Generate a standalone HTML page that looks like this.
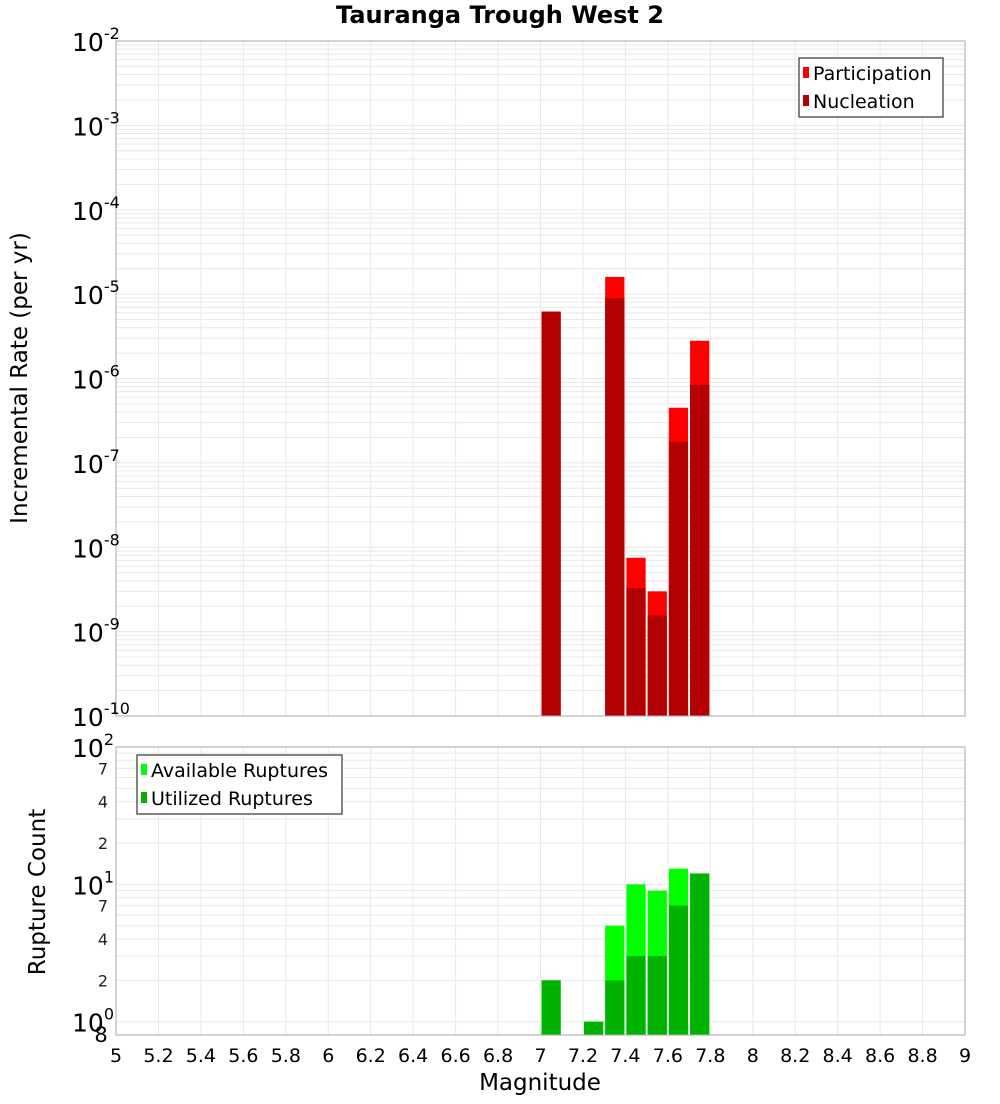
<!DOCTYPE html>
<html><head><meta charset="utf-8"><style>
body{margin:0;background:#fff;font-family:"DejaVu Sans","Liberation Sans",sans-serif;}
svg text{font-family:"DejaVu Sans","Liberation Sans",sans-serif;}
</style></head><body>
<svg id="c" width="1000" height="1100" xmlns="http://www.w3.org/2000/svg">
<text x="500" y="23" text-anchor="middle" font-size="24" font-weight="bold">Tauranga Trough West 2</text>
<text transform="translate(27,378) rotate(-90)" text-anchor="middle" font-size="23">Incremental Rate (per yr)</text>
<text transform="translate(45,892) rotate(-90)" text-anchor="middle" font-size="23">Rupture Count</text>
<text x="540" y="1090" text-anchor="middle" font-size="23">Magnitude</text>
<g id="g"></g>
</svg>
<script>
const mags=[7.05,7.35,7.45,7.55,7.65,7.75];
const partic=[6.2e-6,1.6e-5,7.5e-9,3.0e-9,4.5e-7,2.8e-6];
const nucl=[6.2e-6,9.0e-6,3.3e-9,1.55e-9,1.78e-7,8.4e-7];
const cntMags=[7.05,7.25,7.35,7.45,7.55,7.65,7.75];
const avail=[2,1,5,10,9,13,12];
const util=[2,1,2,3,3,7,12];
const xTicks=[5,5.2,5.4,5.6,5.8,6,6.2,6.4,6.6,6.8,7,7.2,7.4,7.6,7.8,8,8.2,8.4,8.6,8.8,9];

const NS="http://www.w3.org/2000/svg",g=document.getElementById('g');
function el(t,a,txt){const e=document.createElementNS(NS,t);for(const k in a)e.setAttribute(k,a[k]);if(txt!==undefined)e.textContent=txt;g.appendChild(e);return e;}
const L=116,R=965;
const x=v=>L+(v-5)/4*(R-L);
const T1=41,B1=716;const y1=v=>T1+(-2-Math.log10(v))/8*(B1-T1);
const T2=747,B2=1035,lmin=Math.log10(0.8);const y2=v=>B2-(Math.log10(v)-lmin)/(2-lmin)*(B2-T2);
for(let d=-10;d<-2;d++)for(let m=1;m<10;m++){const yy=y1(m*Math.pow(10,d));const e=el('line',{x1:L,x2:R,y1:yy,y2:yy,stroke:'#e8e8e8','stroke-width':1});}
for(let d=0;d<2;d++)for(let m=1;m<10;m++){const v=m*Math.pow(10,d);if(v<0.8)continue;const yy=y2(v);const e=el('line',{x1:L,x2:R,y1:yy,y2:yy,stroke:'#e8e8e8','stroke-width':1});}
xTicks.forEach(t=>{const xx=x(t);for(const [a,b] of [[T1,B1],[T2,B2]]){const e=el('line',{x1:xx,x2:xx,y1:a,y2:b,stroke:'#e8e8e8','stroke-width':1});}
 const tl=el('text',{x:xx,y:1062,'text-anchor':'middle','font-size':19},String(t));});
const bw=(x(0.1)-x(0))-2;
mags.forEach((m,i)=>{const xx=x(m)-bw/2;
 const p=el('rect',{x:xx,y:y1(partic[i]),width:bw,height:B1-y1(partic[i]),fill:'#ff0000'});
 const n=el('rect',{x:xx,y:y1(nucl[i]),width:bw,height:B1-y1(nucl[i]),fill:'#b30000'});});
cntMags.forEach((m,i)=>{const xx=x(m)-bw/2;
 const p=el('rect',{x:xx,y:y2(avail[i]),width:bw,height:B2-y2(avail[i]),fill:'#00ff00'});
 const n=el('rect',{x:xx,y:y2(util[i]),width:bw,height:B2-y2(util[i]),fill:'#00b300'});});
for(const [a,b,nm] of [[T1,B1,'top-plot-frame'],[T2,B2,'bottom-plot-frame']]){const e=el('rect',{x:L,y:a,width:R-L,height:b-a,fill:'none',stroke:'#aaa','stroke-width':1});}
for(let d=-10;d<=-2;d++){const yy=y1(Math.pow(10,d));const t=el('text',{x:72,y:yy+10,'font-size':25});
 t.innerHTML='10<tspan dy="-12" font-size="16">'+d+'</tspan>';}
for(let d=0;d<=2;d++){const yy=y2(Math.pow(10,d));const t=el('text',{x:72,y:yy+10,'font-size':25});t.innerHTML='10<tspan dy="-12" font-size="16">'+d+'</tspan>';}
for(const d of [0,1])for(const m of [2,4,7]){const t=el('text',{x:103,y:y2(m*Math.pow(10,d))+6,'font-size':16,'text-anchor':'middle','fill':'#222'},String(m));}
{const t=el('text',{x:101,y:1042,'font-size':21,'text-anchor':'middle'},'8');}
function legend(x0,y0,w,h,items,nm){const r=el('rect',{x:x0,y:y0,width:w,height:h,fill:'#fff',stroke:'#333','stroke-width':1.2});
 items.forEach((it,i)=>{const cy=y0+15+i*28;const s=el('rect',{x:x0+4,y:cy-6,width:6,height:11,fill:it[1]});
 const t=el('text',{x:x0+14,y:cy+7,'font-size':19},it[0]);});}
legend(799,58,144,59,[['Participation','#ff0000'],['Nucleation','#b30000']],'top-legend');
legend(137,755,205,59,[['Available Ruptures','#00ff00'],['Utilized Ruptures','#00b300']],'bottom-legend');
</script>
</body></html>
